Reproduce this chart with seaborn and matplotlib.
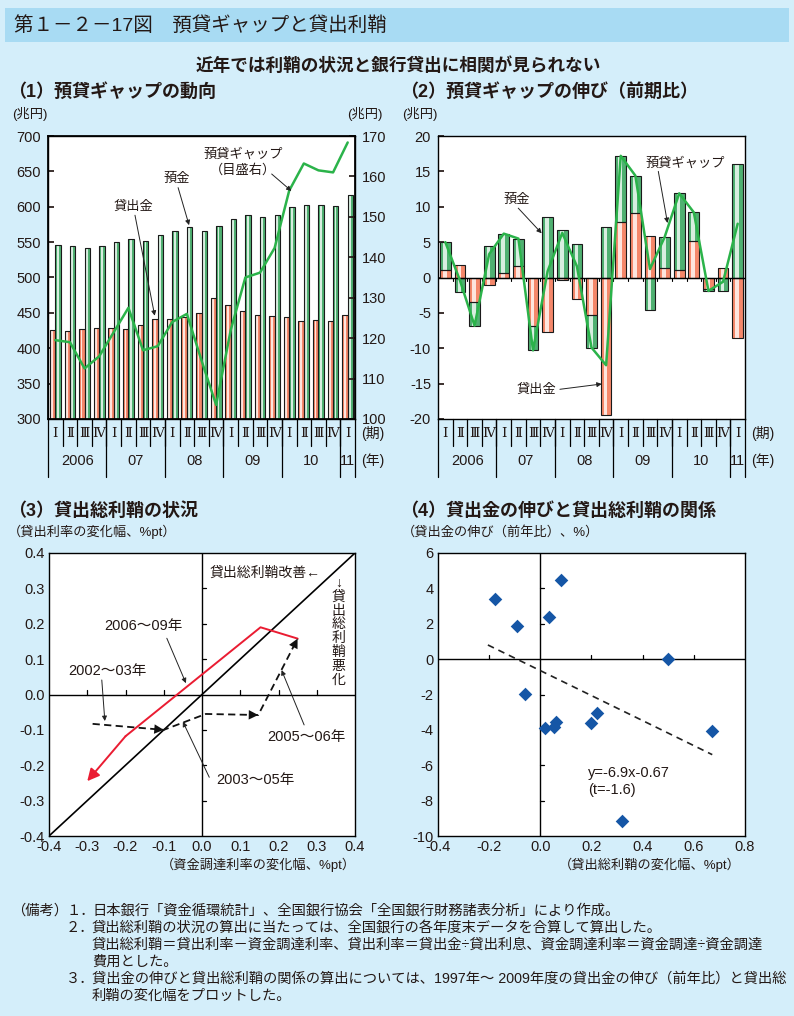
import numpy as np
import pandas as pd
import matplotlib
matplotlib.use("Agg")
import matplotlib.pyplot as plt
import matplotlib.transforms as mtransforms
from matplotlib.patches import Rectangle
import matplotlib.colors as mcolors
import seaborn as sns

# ------------------------------------------------------------------ data
quarters = [f"{y}Q{q}" for y in range(2006, 2011) for q in range(1, 5)] + ["2011Q1"]
quarter_marks = ["Ⅰ", "Ⅱ", "Ⅲ", "Ⅳ"]
year_labels = ["2006", "07", "08", "09", "10", "11"]

# (1) levels, trillion yen
loans = [426, 424, 427, 429, 429, 427, 433, 441, 441, 444, 450, 471,
         461, 453, 447, 446, 444, 439, 440, 439, 447]
deposits = [546, 545, 541, 545, 550, 555, 552, 560, 566, 572, 566, 573,
            583, 589, 585, 589, 599, 602, 602, 601, 617]
gap = [119.5, 119.0, 112.5, 115.5, 121.5, 127.5, 117.0, 118.0, 124.0, 126.0, 114.5, 103.5,
       122.0, 135.0, 136.2, 142.3, 156.5, 163.2, 161.5, 161.0, 168.4]

# (2) q/q change of gap and contributions
loan_contrib = [1.1, 1.7, -3.4, -1.1, 0.6, 1.6, -6.8, -7.7, -0.4, -3.1, -5.3, -19.5,
                7.9, 9.1, 5.8, 1.4, 1.1, 5.2, -1.6, 1.3, -8.5]
deposit_contrib = [3.9, -2.1, -3.4, 4.4, 5.6, 3.9, -3.5, 8.6, 6.7, 4.7, -4.6, 7.1,
                   9.3, 5.3, -4.6, 4.3, 10.8, 4.0, -0.3, -1.9, 16.1]
gap_change = [5.0, -0.4, -6.8, 3.3, 6.2, 5.5, -10.3, 0.9, 6.3, 1.6, -9.9, -12.4,
              17.2, 14.4, 1.2, 5.7, 11.9, 9.2, -1.9, -0.6, 7.6]

# (3) margin paths (x: funding rate change, y: lending rate change)
diag_x = [-0.4, 0.4]
diag_y = [-0.4, 0.4]
red_years = [2006, 2007, 2008, 2009]
red_x = [0.25, 0.153, -0.20, -0.30]
red_y = [0.158, 0.190, -0.118, -0.245]
blk_years = [2002, 2003, 2004, 2005, 2006]
blk_x = [-0.286, -0.100, 0.010, 0.147, 0.250]
blk_y = [-0.083, -0.100, -0.055, -0.058, 0.158]

# (4) loan growth vs margin change, FY1997-2009
margin_change = [-0.179, -0.09, -0.059, 0.02, 0.033, 0.08, 0.052, 0.06, 0.20, 0.22, 0.50, 0.321, 0.672]
loan_growth = [3.42, 1.85, -1.96, -3.90, 2.36, 4.50, -3.85, -3.58, -3.60, -3.04, 0.02, -9.13, -4.06]
fit_x = [-0.205, 0.672]
fit_y = [0.80, -5.40]

# ------------------------------------------------------------------ style
sns.set_theme(style="white")
plt.rcParams["font.family"] = ["Liberation Sans", "Noto Sans CJK JP"]
plt.rcParams["axes.unicode_minus"] = False

BG = "#d4eefa"
BAND = "#a8dbf3"
ORANGE = "#f4876a"
GREEN = "#4fb071"
LINE_GREEN = "#2bb34a"
RED = "#ea1c32"
BLUE = "#1556a6"
TXT = "#231815"

W, H = 794, 1016
fig = plt.figure(figsize=(W / 100, H / 100), dpi=100, facecolor=BG)


def rect(l, t, r, b):
    return [l / W, 1 - b / H, (r - l) / W, (b - t) / H]


def ftext(x, y, s, **kw):
    kw.setdefault("color", TXT)
    fig.text(x / W, 1 - y / H, s, **kw)


def fmt1(v):
    return f"{round(v, 1) + 0.0:.1f}"


def style_axes(ax):
    ax.set_facecolor("white")
    for sp in ax.spines.values():
        sp.set_visible(True)
        sp.set_color("black")
        sp.set_linewidth(1.0)
    ax.set_xlabel("")
    ax.set_ylabel("")


def shine(ax, patches):
    """give bars a light centre stripe like the reference gradient"""
    for p in list(patches):
        x, y, w, h = p.get_x(), p.get_y(), p.get_width(), p.get_height()
        fc = np.array(mcolors.to_rgb(p.get_facecolor()))
        light = fc * 0.22 + 0.78
        z = p.get_zorder()
        p.set_edgecolor("none")
        ax.add_patch(Rectangle((x + w * 0.28, y), w * 0.34, h, facecolor=light,
                               edgecolor="none", zorder=z + 0.01))
        ax.add_patch(Rectangle((x, y), w, h, facecolor="none",
                               edgecolor="#1a1a1a", linewidth=0.8, zorder=z + 0.02))


def quarter_axis(ax):
    trans = mtransforms.blended_transform_factory(ax.transData, ax.transAxes)
    n = len(quarters)
    for i in range(n):
        ax.text(i, -0.052, quarter_marks[i % 4], transform=trans, ha="center", va="center",
                fontsize=9.5, family=["DejaVu Serif", "Noto Sans CJK JP"], color=TXT)
    for i in range(n - 1):
        ax.plot([i + 0.5, i + 0.5], [0, -0.095], transform=trans, color="black",
                lw=0.9, clip_on=False)
    for xb in [-0.5, 3.5, 7.5, 11.5, 15.5, 19.5, 20.5]:
        ax.plot([xb, xb], [0, -0.205], transform=trans, color="black", lw=0.9, clip_on=False)
    year_pos = [1.5, 5.5, 9.5, 13.5, 17.5, 20.0]
    for x, lab in zip(year_pos, year_labels):
        ax.text(x, -0.147, lab, transform=trans, ha="center", va="center", fontsize=10.5, color=TXT)
    ax.text(21.7, -0.052, "(期)", transform=trans, ha="center", va="center", fontsize=10, color=TXT)
    ax.text(21.7, -0.147, "(年)", transform=trans, ha="center", va="center", fontsize=10, color=TXT)


ARROW = dict(arrowstyle="-|>", color="#222222", lw=0.7, mutation_scale=7, shrinkA=0, shrinkB=0)

# ------------------------------------------------------------------ header
fig.patches.append(Rectangle((5 / W, 1 - 42 / H), 784 / W, 34 / H, transform=fig.transFigure,
                             facecolor=BAND, edgecolor="none", zorder=0))
ftext(14, 25, "第１－２－17図　預貸ギャップと貸出利鞘", fontsize=14, va="center", ha="left")
ftext(398, 66, "近年では利鞘の状況と銀行貸出に相関が見られない", fontsize=12.7, va="center",
      ha="center", weight="bold")
ftext(8, 92, "（1）預貸ギャップの動向", fontsize=13, va="center", ha="left", weight="bold")
ftext(400, 92, "（2）預貸ギャップの伸び（前期比）", fontsize=13, va="center", ha="left", weight="bold")
ftext(8, 511, "（3）貸出総利鞘の状況", fontsize=13, va="center", ha="left", weight="bold")
ftext(400, 511, "（4）貸出金の伸びと貸出総利鞘の関係", fontsize=13, va="center", ha="left", weight="bold")

# ------------------------------------------------------------------ panel 1
ax1 = fig.add_axes(rect(48, 136, 355, 419))
df1 = pd.DataFrame({
    "quarter": quarters * 2,
    "series": ["貸出金"] * len(quarters) + ["預金"] * len(quarters),
    "value": loans + deposits,
})
sns.barplot(data=df1, x="quarter", y="value", hue="series", order=quarters,
            hue_order=["貸出金", "預金"], palette=[ORANGE, GREEN], saturation=1,
            width=0.74, gap=0, errorbar=None, legend=False, ax=ax1)
shine(ax1, ax1.patches)
style_axes(ax1)
ax1.set_ylim(300, 700)
ax1.set_yticks(range(300, 701, 50))
ax1.tick_params(axis="y", direction="in", length=4, labelsize=10.5, pad=5, left=True, colors=TXT)
ax1r = ax1.twinx()
sns.lineplot(x=np.arange(len(quarters)), y=gap, ax=ax1r, color=LINE_GREEN, linewidth=1.8)
ax1r.set_ylim(100, 170)
ax1r.set_yticks(range(100, 171, 10))
ax1r.tick_params(axis="y", direction="in", length=4, labelsize=10.5, pad=5, right=True, colors=TXT)
ax1r.set_ylabel("")
ax1.set_xlim(-0.5, 20.5)
ax1.set_xticks([])
ax1r.set_xticks([])
for sp in ax1r.spines.values():
    sp.set_color("black")
quarter_axis(ax1)
ftext(12, 114, "(兆円)", fontsize=9.5, va="center", ha="left")
ftext(347, 114, "(兆円)", fontsize=9.5, va="center", ha="left")

ax1r.text(12.85, 165.3, "預貸ギャップ", fontsize=9.5, ha="center", va="center", color=TXT)
ax1r.text(12.85, 161.6, "（目盛右）", fontsize=9.5, ha="center", va="center", color=TXT)
ax1r.annotate("", xy=(16.15, 156.4), xytext=(14.8, 160.6), arrowprops=ARROW)
ax1.text(8.3, 640, "預金", fontsize=9.5, ha="center", va="center", color=TXT)
ax1.annotate("", xy=(9.15, 574), xytext=(8.4, 627), arrowprops=ARROW)
ax1.text(5.35, 600, "貸出金", fontsize=9.5, ha="center", va="center", color=TXT)
ax1.annotate("", xy=(6.8, 446), xytext=(5.45, 588), arrowprops=ARROW)

# ------------------------------------------------------------------ panel 2
ax2 = fig.add_axes(rect(438, 136, 745, 419))
sns.barplot(x=quarters, y=loan_contrib, order=quarters, color=ORANGE, saturation=1,
            width=0.73, errorbar=None, ax=ax2)
bottoms = [l if l * d > 0 else 0 for l, d in zip(loan_contrib, deposit_contrib)]
ax2.bar(np.arange(len(quarters)), deposit_contrib, bottom=bottoms, width=0.73, color=GREEN)
shine(ax2, ax2.patches)
style_axes(ax2)
ax2.axhline(0, color="black", lw=1.0, zorder=4)
for i in range(len(quarters) - 1):
    ax2.plot([i + 0.5, i + 0.5], [0, -0.55], color="black", lw=0.8, zorder=4)
sns.lineplot(x=np.arange(len(quarters)), y=gap_change, ax=ax2, color=LINE_GREEN,
             linewidth=1.8, zorder=6)
ax2.set_ylim(-20, 20)
ax2.set_xlim(-0.5, 20.5)
ax2.set_yticks(range(-20, 21, 5))
ax2.set_xticks([])
ax2.tick_params(axis="y", direction="in", length=4, labelsize=10.5, pad=5, left=True, colors=TXT)
ax2.set_ylabel("")
quarter_axis(ax2)
ftext(402, 114, "(兆円)", fontsize=9.5, va="center", ha="left")

ax2.text(4.88, 11.0, "預金", fontsize=9.5, ha="center", va="center", color=TXT, zorder=8)
ax2.annotate("", xy=(6.59, 6.25), xytext=(4.99, 9.8), arrowprops=ARROW)
ax2.text(16.4, 16.1, "預貸ギャップ", fontsize=9.5, ha="center", va="center", color=TXT, zorder=8)
ax2.annotate("", xy=(15.2, 7.7), xytext=(14.57, 15.0), arrowprops=ARROW)
ax2.text(6.25, -15.9, "貸出金", fontsize=9.5, ha="center", va="center", color=TXT, zorder=8)
ax2.annotate("", xy=(10.7, -15.05), xytext=(7.84, -15.8), arrowprops=ARROW)

# ------------------------------------------------------------------ panel 3
ax3 = fig.add_axes(rect(49, 553, 355, 836))
style_axes(ax3)
ax3.set_xlim(-0.4, 0.4)
ax3.set_ylim(-0.4, 0.4)
ax3.axhline(0, color="black", lw=1.0)
ax3.axvline(0, color="black", lw=1.0)
for v in [-0.3, -0.2, -0.1, 0.1, 0.2, 0.3]:
    ax3.plot([v, v], [0, 0.012], color="black", lw=0.9)
    ax3.plot([0, 0.011], [v, v], color="black", lw=0.9)
sns.lineplot(x=diag_x, y=diag_y, ax=ax3, color="black", linewidth=1.2)
# black dashed path 2002-2006
sns.lineplot(x=blk_x, y=blk_y, ax=ax3, sort=False, color="#111111", linewidth=1.3,
             linestyle=(0, (4, 2.4)))
for k in [1, 3, 4]:
    dx = blk_x[k] - blk_x[k - 1]
    dy = blk_y[k] - blk_y[k - 1]
    L = np.hypot(dx, dy)
    ax3.annotate("", xy=(blk_x[k], blk_y[k]),
                 xytext=(blk_x[k] - dx / L * 0.03, blk_y[k] - dy / L * 0.03),
                 arrowprops=dict(arrowstyle="-|>", color="#111111", lw=0.01,
                                 mutation_scale=17, shrinkA=0, shrinkB=0))
# red path 2006-2009
sns.lineplot(x=red_x[:3], y=red_y[:3], ax=ax3, sort=False, color=RED, linewidth=1.4)
ax3.annotate("", xy=(red_x[3], red_y[3]), xytext=(red_x[2], red_y[2]),
             arrowprops=dict(arrowstyle="-|>", color=RED, lw=1.4, mutation_scale=18,
                             shrinkA=0, shrinkB=0))
ticks3 = np.arange(-0.4, 0.41, 0.1)
ax3.set_xticks(ticks3)
ax3.set_yticks(ticks3)
ax3.set_xticklabels([fmt1(v) for v in ticks3])
ax3.set_yticklabels([fmt1(v) for v in ticks3])
ax3.tick_params(length=0, labelsize=10.5, pad=3, colors=TXT)
ax3.set_xlabel("")
ax3.set_ylabel("")

ax3.text(0.02, 0.345, "貸出総利鞘改善←", fontsize=10, ha="left", va="center", color=TXT)
ax3.text(0.357, 0.335, "↓\n貸\n出\n総\n利\n鞘\n悪\n化", fontsize=10, ha="center", va="top",
         linespacing=0.98, color=TXT)
ax3.text(-0.154, 0.194, "2006～09年", fontsize=10.5, ha="center", va="center", color=TXT)
ax3.annotate("", xy=(-0.042, 0.032), xytext=(-0.092, 0.159), arrowprops=ARROW)
ax3.text(-0.246, 0.066, "2002～03年", fontsize=10.5, ha="center", va="center", color=TXT)
ax3.annotate("", xy=(-0.254, -0.075), xytext=(-0.262, 0.041), arrowprops=ARROW)
ax3.text(0.141, -0.242, "2003～05年", fontsize=10.5, ha="center", va="center", color=TXT)
ax3.annotate("", xy=(-0.05, -0.077), xytext=(0.019, -0.234), arrowprops=ARROW)
ax3.text(0.272, -0.121, "2005～06年", fontsize=10.5, ha="center", va="center", color=TXT)
ax3.annotate("", xy=(0.208, 0.069), xytext=(0.267, -0.086), arrowprops=ARROW)

ftext(8, 532, "（貸出利率の変化幅、%pt）", fontsize=9.5, va="center", ha="left")
ftext(356, 865, "（資金調達利率の変化幅、%pt）", fontsize=9.5, va="center", ha="right")

# ------------------------------------------------------------------ panel 4
ax4 = fig.add_axes(rect(438, 553, 745, 836))
style_axes(ax4)
ax4.set_xlim(-0.4, 0.8)
ax4.set_ylim(-10, 6)
ax4.axhline(0, color="black", lw=1.0)
ax4.axvline(0, color="black", lw=1.0)
for v in [-0.2, 0.2, 0.4, 0.6]:
    ax4.plot([v, v], [0, 0.22], color="black", lw=0.9)
for v in [-8, -6, -4, -2, 2, 4]:
    ax4.plot([0, 0.016], [v, v], color="black", lw=0.9)
sns.lineplot(x=fit_x, y=fit_y, ax=ax4, color="#222222", linewidth=1.2, linestyle=(0, (4, 3)))
sns.scatterplot(x=margin_change, y=loan_growth, ax=ax4, marker="D", s=48, color=BLUE,
                edgecolor=BLUE, linewidth=0, zorder=5)
ax4.text(0.186, -6.45, "y=-6.9x-0.67", fontsize=10.5, ha="left", va="center", color=TXT)
ax4.text(0.186, -7.4, "(t=-1.6)", fontsize=10.5, ha="left", va="center", color=TXT)
ticks4 = np.arange(-0.4, 0.81, 0.2)
ax4.set_xticks(ticks4)
ax4.set_xticklabels([fmt1(v) for v in ticks4])
ax4.set_yticks(range(-10, 7, 2))
ax4.tick_params(length=0, labelsize=10.5, pad=3, colors=TXT)
ax4.set_xlabel("")
ax4.set_ylabel("")
ftext(402, 532, "（貸出金の伸び（前年比）、%）", fontsize=9.5, va="center", ha="left")
ftext(741, 865, "（貸出総利鞘の変化幅、%pt）", fontsize=9.5, va="center", ha="right")

# ------------------------------------------------------------------ notes
notes = [
    (11, 911, "（備考）"),
    (66, 911, "１．"),
    (92, 911, "日本銀行「資金循環統計」、全国銀行協会「全国銀行財務諸表分析」により作成。"),
    (66, 928, "２．"),
    (92, 928, "貸出総利鞘の状況の算出に当たっては、全国銀行の各年度末データを合算して算出した。"),
    (92, 945, "貸出総利鞘＝貸出利率－資金調達利率、貸出利率＝貸出金÷貸出利息、資金調達利率＝資金調達÷資金調達"),
    (92, 962, "費用とした。"),
    (66, 979, "３．"),
    (92, 979, "貸出金の伸びと貸出総利鞘の関係の算出については、1997年～ 2009年度の貸出金の伸び（前年比）と貸出総"),
    (92, 996, "利鞘の変化幅をプロットした。"),
]
for x, y, s in notes:
    ftext(x, y, s, fontsize=10.3, va="center", ha="left")

fig.savefig("out.png", dpi=100, facecolor=BG)
